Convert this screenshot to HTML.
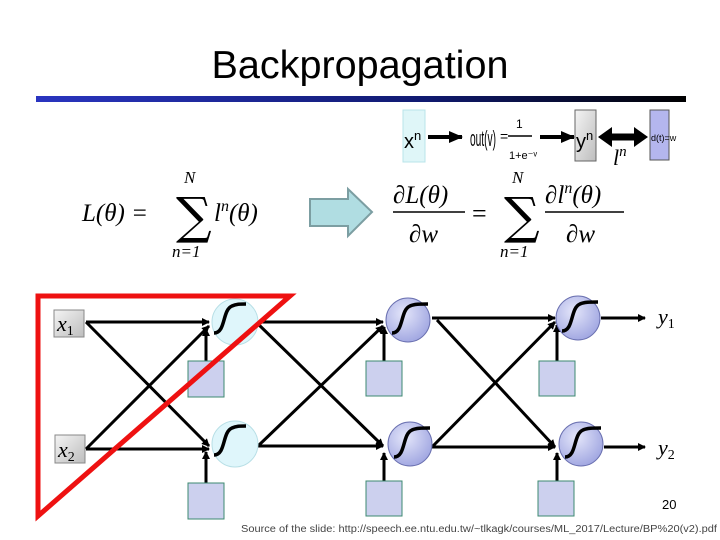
<!DOCTYPE html>
<html><head><meta charset="utf-8"><style>
html,body{margin:0;padding:0;background:#fff;width:720px;height:540px;overflow:hidden}
svg{display:block}
</style></head><body>
<svg width="720" height="540" viewBox="0 0 720 540" xmlns="http://www.w3.org/2000/svg">
<defs>
<linearGradient id="bar" x1="0" x2="1" y1="0" y2="0"><stop offset="0" stop-color="#2a35c0"/><stop offset="0.6" stop-color="#101a70"/><stop offset="1" stop-color="#000"/></linearGradient>
<linearGradient id="gbox" x1="0" x2="1" y1="0" y2="1"><stop offset="0" stop-color="#f4f4f4"/><stop offset="1" stop-color="#bdbdbd"/></linearGradient>
<radialGradient id="bn" cx="0.4" cy="0.35" r="0.7"><stop offset="0" stop-color="#e4e6fa"/><stop offset="1" stop-color="#9ea4e0"/></radialGradient>
<marker id="ah" markerWidth="8" markerHeight="8" refX="7" refY="4" orient="auto" markerUnits="userSpaceOnUse"><path d="M0,0 L8,4 L0,8 z" fill="#000"/></marker>
<marker id="ab" markerWidth="14" markerHeight="12" refX="13" refY="6" orient="auto" markerUnits="userSpaceOnUse"><path d="M0,0 L14,6 L0,12 z" fill="#000"/></marker>
</defs>
<text x="360" y="78" text-anchor="middle" font-family="Liberation Sans, sans-serif" font-size="39" textLength="297" lengthAdjust="spacingAndGlyphs">Backpropagation</text>
<rect x="36" y="96" width="650" height="6" fill="url(#bar)"/>

<!-- top pipeline -->
<rect x="403" y="110" width="22" height="52" fill="#dff6f8" stroke="#b8e4ea"/>
<text x="404" y="148" font-family="Liberation Sans, sans-serif" font-size="20">x<tspan font-size="13" dy="-8">n</tspan></text>
<line x1="428" y1="137" x2="462" y2="137" stroke="#000" stroke-width="4" marker-end="url(#ab)"/>
<text x="470" y="146" font-family="Liberation Sans, sans-serif" font-size="17" transform="translate(470 146) scale(0.6 1.3) translate(-470 -146)">out(v)</text>
<text x="500" y="141" font-family="Liberation Sans, sans-serif" font-size="14">=</text>
<line x1="508" y1="136" x2="532" y2="136" stroke="#000" stroke-width="1.5"/>
<text x="516" y="128" font-family="Liberation Sans, sans-serif" font-size="12">1</text>
<text x="509" y="159" font-family="Liberation Sans, sans-serif" font-size="11">1+e⁻ᵛ</text>
<line x1="540" y1="137" x2="574" y2="137" stroke="#000" stroke-width="4" marker-end="url(#ab)"/>
<rect x="575" y="110" width="21" height="51" fill="url(#gbox)" stroke="#666"/>
<text x="576" y="148" font-family="Liberation Sans, sans-serif" font-size="20">y<tspan font-size="13" dy="-8">n</tspan></text>
<line x1="603" y1="137" x2="641" y2="137" stroke="#000" stroke-width="7"/>
<path d="M598,137 L612,127 L612,147 z M648,137 L634,127 L634,147 z" fill="#000"/>
<text x="613" y="165" font-family="Liberation Serif, serif" font-style="italic" font-size="22">l<tspan font-size="15" dy="-9">n</tspan></text>
<rect x="650" y="110" width="19" height="50" fill="#b4b6ee" stroke="#555"/>
<text x="651" y="141" font-family="Liberation Sans, sans-serif" font-size="9">d(t)=w</text>

<!-- formulas -->
<g font-family="Liberation Serif, serif" font-style="italic" font-size="25">
<text x="82" y="221">L(θ) =</text>
<text x="214" y="221">l<tspan font-size="16" dy="-10">n</tspan><tspan dy="10">(θ)</tspan></text>
<text x="184" y="183" font-size="17">N</text>
<text x="172" y="257" font-size="17">n=1</text>
<text x="393" y="203">∂L(θ)</text>
<text x="409" y="242">∂w</text>
<text x="545" y="203">∂l<tspan font-size="16" dy="-10">n</tspan><tspan dy="10">(θ)</tspan></text>
<text x="566" y="242">∂w</text>
<text x="512" y="183" font-size="17">N</text>
<text x="500" y="257" font-size="17">n=1</text>
</g>
<text x="176" y="233" font-family="DejaVu Serif, serif" font-size="50">∑</text>
<text x="504" y="233" font-family="DejaVu Serif, serif" font-size="50">∑</text>
<line x1="393" y1="212" x2="465" y2="212" stroke="#000" stroke-width="1.5"/>
<line x1="545" y1="212" x2="624" y2="212" stroke="#000" stroke-width="1.5"/>
<text x="472" y="222" font-family="Liberation Serif, serif" font-size="26">=</text>
<path d="M310,199 L348,199 L348,189 L372,212 L348,236 L348,226 L310,226 z" fill="#b0dde2" stroke="#7c9ea2" stroke-width="2"/>

<!-- network connections -->
<g stroke="#000" stroke-width="3" fill="none" marker-end="url(#ah)">
<line x1="86" y1="322" x2="209" y2="322"/>
<line x1="86" y1="322" x2="209" y2="446"/>
<line x1="86" y1="449" x2="209" y2="326"/>
<line x1="86" y1="449" x2="209" y2="449"/>
<line x1="256" y1="322" x2="383" y2="322"/>
<line x1="256" y1="322" x2="383" y2="446"/>
<line x1="258" y1="446" x2="383" y2="326"/>
<line x1="258" y1="446" x2="383" y2="446"/>
<line x1="432" y1="318" x2="555" y2="318"/>
<line x1="437" y1="320" x2="555" y2="447"/>
<line x1="432" y1="447" x2="555" y2="322"/>
<line x1="432" y1="447" x2="555" y2="447"/>
<line x1="601" y1="318" x2="645" y2="318"/>
<line x1="604" y1="447" x2="645" y2="447"/>
<line x1="206" y1="361" x2="206" y2="329"/>
<line x1="206" y1="483" x2="206" y2="452"/>
<line x1="384" y1="361" x2="384" y2="327"/>
<line x1="384" y1="481" x2="384" y2="453"/>
<line x1="557" y1="361" x2="557" y2="325"/>
<line x1="557" y1="481" x2="557" y2="453"/>
</g>

<!-- neurons -->
<g stroke-width="1">
<circle cx="235" cy="322" r="23" fill="#dff6fb" stroke="#b8dfe6"/>
<circle cx="235" cy="444" r="23" fill="#dff6fb" stroke="#b8dfe6"/>
<circle cx="408" cy="320" r="22" fill="url(#bn)" stroke="#6a70b0"/>
<circle cx="410" cy="444" r="22" fill="url(#bn)" stroke="#6a70b0"/>
<circle cx="578" cy="318" r="22" fill="url(#bn)" stroke="#6a70b0"/>
<circle cx="581" cy="444" r="22" fill="url(#bn)" stroke="#6a70b0"/>
</g>
<g stroke="#000" stroke-width="3.5" fill="none">
<path d="M214,333 C226,333 222,310 232,306 C236,304 240,304 246,304"/>
<path d="M214,455 C226,455 222,432 232,428 C236,426 240,426 246,426"/>
<path d="M392,333 C404,333 400,310 410,306 C414,304 420,304 428,304"/>
<path d="M394,457 C406,457 402,434 412,430 C416,428 422,428 430,428"/>
<path d="M562,331 C574,331 570,308 580,304 C584,302 590,302 598,302"/>
<path d="M565,457 C577,457 573,434 583,430 C587,428 593,428 601,428"/>
</g>

<!-- bias boxes -->
<g fill="#ccd0ee" stroke="#3c8a70" stroke-width="1">
<rect x="188" y="361" width="36" height="36"/>
<rect x="188" y="483" width="36" height="36"/>
<rect x="366" y="361" width="36" height="35"/>
<rect x="366" y="481" width="36" height="35"/>
<rect x="539" y="361" width="36" height="35"/>
<rect x="538" y="481" width="36" height="35"/>
</g>

<!-- inputs -->
<rect x="54" y="310" width="30" height="27" fill="url(#gbox)" stroke="#888"/>
<rect x="55" y="435" width="30" height="28" fill="url(#gbox)" stroke="#888"/>
<g font-family="Liberation Serif, serif" font-style="italic" font-size="22">
<text x="57" y="331">x<tspan font-style="normal" font-size="14" dy="4">1</tspan></text>
<text x="58" y="457">x<tspan font-style="normal" font-size="14" dy="4">2</tspan></text>
<text x="658" y="324">y<tspan font-style="normal" font-size="14" dy="4">1</tspan></text>
<text x="658" y="455">y<tspan font-style="normal" font-size="14" dy="4">2</tspan></text>
</g>

<!-- red triangle -->
<path d="M38,296 L290,296 L38,516 z" fill="none" stroke="#ee1111" stroke-width="5" stroke-linejoin="miter"/>

<text x="662" y="509" font-family="Liberation Sans, sans-serif" font-size="13">20</text>
<text x="241" y="532" font-family="Liberation Sans, sans-serif" font-size="10" fill="#444" textLength="476" lengthAdjust="spacingAndGlyphs">Source of the slide: http://speech.ee.ntu.edu.tw/~tlkagk/courses/ML_2017/Lecture/BP%20(v2).pdf</text>
</svg>
</body></html>
